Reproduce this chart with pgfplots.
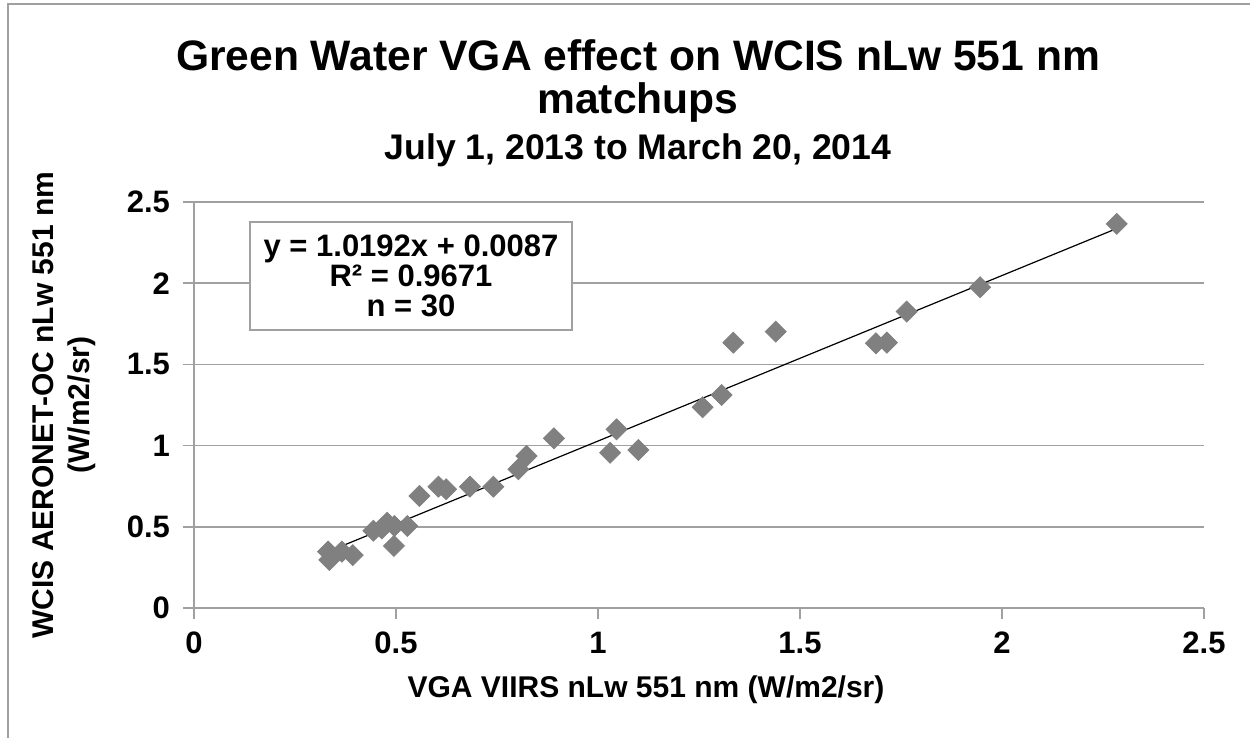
\documentclass[border=0pt]{standalone}
\usepackage{pgfplots}
\pgfplotsset{compat=1.18}
\usepackage{fontspec}
\setmainfont{Liberation Sans}
\definecolor{mk}{RGB}{128,128,128}
\definecolor{gridc}{RGB}{160,160,160}
\begin{document}
\begin{tikzpicture}
\path[use as bounding box] (-97pt,-65pt) rectangle (528pt,304pt);
\draw[gridc,line width=0.8pt] (-93pt,-65pt) -- (-93pt,302pt) -- (528pt,302pt);
\begin{axis}[
  at={(0,0)}, anchor=origin,
  scale only axis, width=505pt, height=203pt,
  xmin=0, xmax=2.5, ymin=0, ymax=2.5,
  xtick={0,0.5,...,2.5}, ytick={0,0.5,...,2.5},
  xticklabels={0,0.5,1,1.5,2,2.5},
  yticklabels={0,0.5,1,1.5,2,2.5},
  axis x line*=bottom, axis y line*=left,
  axis line style={gridc, line width=0.8pt, -},
  ymajorgrids, major grid style={gridc, line width=0.8pt},
  tick align=outside,
  tick style={gridc, line width=0.8pt},
  major tick length=5.5pt,
  ticklabel style={font=\bfseries\fontsize{15.5}{18}\selectfont},
  /pgf/number format/assume math mode=true,
  xticklabel style={yshift=-3pt},
  yticklabel style={xshift=-3pt},
  clip=false,
]
\addplot[only marks, mark=square*, mark size=3.7pt, mark options={rotate=45, fill=mk, draw=mk}] coordinates {
(0.332,0.347) (0.335,0.296) (0.366,0.347) (0.393,0.326) (0.444,0.476)
(0.478,0.525) (0.496,0.505) (0.495,0.382) (0.528,0.505) (0.558,0.690)
(0.605,0.747) (0.624,0.731) (0.683,0.747) (0.741,0.747) (0.803,0.854)
(0.823,0.936) (0.891,1.045) (1.030,0.956) (1.046,1.100) (1.100,0.973)
(1.259,1.236) (1.306,1.312) (1.335,1.634) (1.440,1.702) (1.688,1.630)
(1.715,1.634) (1.764,1.825) (1.946,1.975) (2.284,2.365) (0.465,0.490)
};
\addplot[black, line width=0.6pt] coordinates {(0.332,0.3471) (2.284,2.3366)};
\end{axis}
\node[draw=gridc, line width=0.8pt, fill=white, minimum width=161pt, minimum height=54pt, align=center, font=\bfseries\fontsize{15.5}{15}\selectfont] at (108.5pt,166pt) {y = 1.0192x + 0.0087\\R² = 0.9671\\n = 30};
\node[font=\bfseries\fontsize{21.3}{24}\selectfont] at (222pt,276.5pt) {Green Water VGA effect on WCIS nLw 551 nm};
\node[font=\bfseries\fontsize{21.3}{24}\selectfont] at (222pt,253pt) {matchups};
\node[font=\bfseries\fontsize{17.8}{20}\selectfont] at (222pt,229pt) {July 1, 2013 to March 20, 2014};
\node[rotate=90, align=center, font=\bfseries\fontsize{15}{18}\selectfont] at (-65pt,101.5pt) {WCIS AERONET-OC nLw 551 nm\\(W/m2/sr)};
\node[font=\bfseries\fontsize{15}{17}\selectfont] at (226pt,-41pt) {VGA VIIRS nLw 551 nm (W/m2/sr)};
\end{tikzpicture}
\end{document}
